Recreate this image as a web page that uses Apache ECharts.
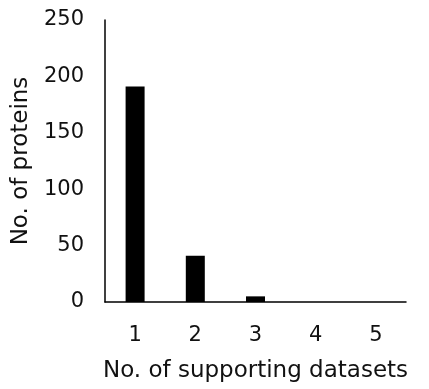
<!DOCTYPE html>
<html>
<head>
<meta charset="utf-8">
<script src="https://cdn.jsdelivr.net/npm/echarts@6/dist/echarts.min.js"></script>
<style>
html, body { margin: 0; padding: 0; background: #fff; }
#chart { width: 429px; height: 389px; }
</style>
</head>
<body>
<div id="chart"></div>
<script>
// data
var categories = ['1', '2', '3', '4', '5'];
var proteinCounts = [191, 41, 5, 0, 0];
var yTicks = [0, 50, 100, 150, 200, 250];

var textColor = '#111';
var fontName = 'DejaVu Sans';

var myChart = echarts.init(document.getElementById('chart'));
var option = {
	animation: false,
	backgroundColor: '#fff',
	grid: { left: 105, right: 23, top: 20, bottom: 87, outerBoundsMode: 'none' },
	xAxis: {
		type: 'category',
		data: categories,
		name: 'No. of supporting datasets',
		nameLocation: 'middle',
		nameGap: 58,
		nameTextStyle: { color: textColor, fontSize: 23, fontFamily: fontName },
		axisLine: { lineStyle: { color: '#000', width: 1.5 } },
		axisTick: { show: false },
		axisLabel: { color: textColor, fontSize: 21, fontFamily: fontName, margin: 23 }
	},
	yAxis: {
		type: 'value',
		min: yTicks[0],
		max: yTicks[yTicks.length - 1],
		interval: yTicks[1] - yTicks[0],
		name: 'No. of proteins',
		nameLocation: 'middle',
		nameGap: 71,
		nameTextStyle: { color: textColor, fontSize: 23, fontFamily: fontName },
		axisLine: { show: true, lineStyle: { color: '#000', width: 1.5 } },
		axisTick: { show: false },
		splitLine: { show: false },
		axisLabel: { color: textColor, fontSize: 21, fontFamily: fontName, margin: 21 }
	},
	series: [{
		type: 'bar',
		data: proteinCounts,
		barWidth: 19,
		itemStyle: { color: '#000' }
	}]
};
myChart.setOption(option);
</script>
</body>
</html>
